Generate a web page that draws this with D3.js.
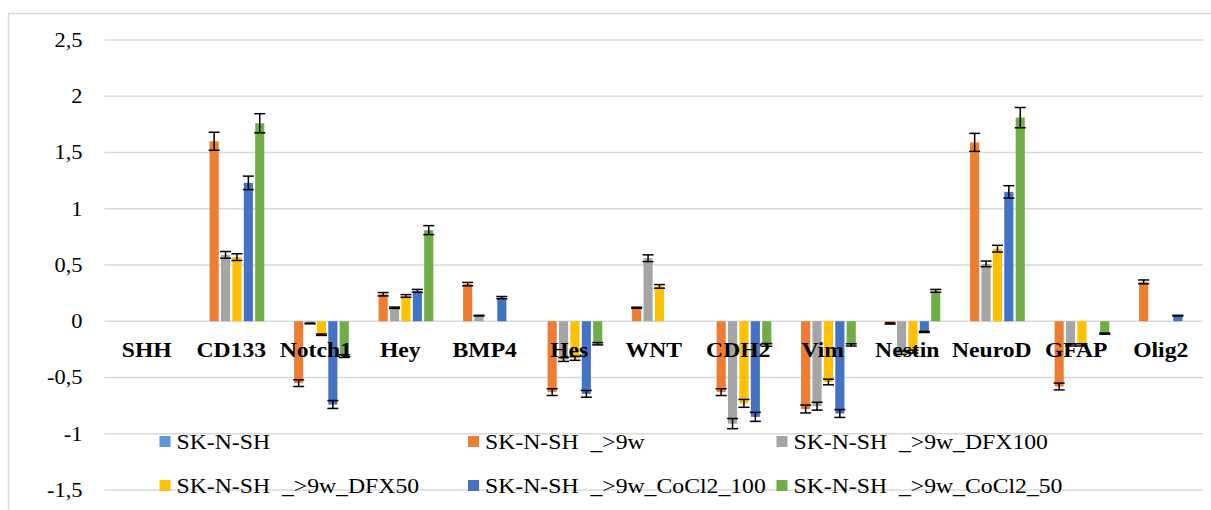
<!DOCTYPE html>
<html>
<head>
<meta charset="utf-8">
<script src="https://cdn.jsdelivr.net/npm/d3@7"></script>
<style>
  body { margin: 0; background: #fff; }
  svg { display: block; }
</style>
</head>
<body>
<div id="chart"></div>
<script>
// Chart values
const categories = ["SHH", "CD133", "Notch1", "Hey", "BMP4", "Hes", "WNT", "CDH2", "Vim", "Nestin", "NeuroD", "GFAP", "Olig2"];
const seriesNames = ["SK-N-SH", "SK-N-SH  _>9w", "SK-N-SH  _>9w_DFX100", "SK-N-SH  _>9w_DFX50", "SK-N-SH  _>9w_CoCl2_100", "SK-N-SH  _>9w_CoCl2_50"];
const seriesColors = ["#5B9BD5", "#ED7D31", "#A5A5A5", "#FFC000", "#4472C4", "#70AD47"];

const control = [0, 0, 0, 0, 0, 0, 0, 0, 0, 0, 0, 0, 0];
const controlErr = [0, 0, 0, 0, 0, 0, 0, 0, 0, 0, 0, 0, 0];
const w9 = [0, 1.60, -0.55, 0.24, 0.33, -0.63, 0.12, -0.63, -0.78, -0.02, 1.59, -0.58, 0.35];
const w9Err = [0, 0.08, 0.03, 0.015, 0.015, 0.03, 0.005, 0.03, 0.035, 0.005, 0.08, 0.03, 0.017];
const dfx100 = [0, 0.59, -0.02, 0.12, 0.05, -0.34, 0.56, -0.91, -0.755, -0.28, 0.51, -0.21, 0];
const dfx100Err = [0, 0.03, 0.003, 0.006, 0.003, 0.017, 0.03, 0.045, 0.035, 0.014, 0.025, 0.01, 0];
const dfx50 = [0, 0.57, -0.12, 0.225, 0, -0.33, 0.31, -0.73, -0.54, -0.27, 0.645, -0.21, 0];
const dfx50Err = [0, 0.03, 0.006, 0.012, 0, 0.017, 0.016, 0.035, 0.025, 0.013, 0.03, 0.01, 0];
const cocl100 = [0, 1.23, -0.74, 0.27, 0.21, -0.645, 0, -0.85, -0.82, -0.095, 1.15, 0, 0.05];
const cocl100Err = [0, 0.06, 0.035, 0.013, 0.01, 0.03, 0, 0.04, 0.035, 0.005, 0.055, 0, 0.003];
const cocl50 = [0, 1.76, -0.31, 0.81, 0, -0.2, 0, -0.21, -0.21, 0.27, 1.81, -0.11, 0];
const cocl50Err = [0, 0.085, 0.012, 0.04, 0, 0.01, 0, 0.012, 0.01, 0.013, 0.09, 0.005, 0];

const yTicks = [-1.5, -1, -0.5, 0, 0.5, 1, 1.5, 2, 2.5];
const yTickLabels = ["-1,5", "-1", "-0,5", "0", "0,5", "1", "1,5", "2", "2,5"];

const seriesValues = [control, w9, dfx100, dfx50, cocl100, cocl50];
const seriesErrors = [controlErr, w9Err, dfx100Err, dfx50Err, cocl100Err, cocl50Err];

const fontFam = "'Liberation Serif'";

// Declare the chart dimensions
const width = 1211;
const height = 510;
const plot = { left: 104.5, right: 1203, top: 40, bottom: 490 };

const svg = d3.select("#chart")
  .append("svg")
  .attr("width", width)
  .attr("height", height);

// outer chart border (runs off the right/bottom like the source)
svg.append("rect")
  .attr("x", 8.5)
  .attr("y", 13.5)
  .attr("width", 1215)
  .attr("height", 510)
  .attr("fill", "none")
  .attr("stroke", "#d9d9d9")
  .attr("stroke-width", 1.5);

// scales
const x0 = d3.scaleBand()
  .domain(categories)
  .range([plot.left, plot.right])
  .padding(0);

const x1 = d3.scaleBand()
  .domain(d3.range(seriesNames.length))
  .range([9.2, x0.bandwidth() - 9.2])
  .paddingInner(0.2)
  .paddingOuter(0);

const y = d3.scaleLinear()
  .domain([-1.5, 2.5])
  .range([plot.bottom, plot.top]);

// grid lines
svg.append("g")
  .selectAll("line")
  .data(yTicks)
  .join("line")
  .attr("x1", plot.left)
  .attr("x2", plot.right)
  .attr("y1", d => y(d))
  .attr("y2", d => y(d))
  .attr("stroke", "#d9d9d9")
  .attr("stroke-width", 1.5);

// y axis labels (source text is a bit stretched sideways)
const yAxis = svg.append("g")
  .attr("transform", `translate(${plot.left},0)`)
  .call(d3.axisLeft(y)
    .tickValues(yTicks)
    .tickSize(0)
    .tickPadding(22)
    .tickFormat((d, i) => yTickLabels[i]));
yAxis.select(".domain").remove();
yAxis.selectAll("text")
  .style("font-family", fontFam)
  .style("font-size", "20px")
  .attr("fill", "#000")
  .attr("transform", function () {
    const tx = +this.getAttribute("x");
    return `translate(${tx * (1 - 1.12)},0) scale(1.12,1)`;
  });

// bars
const flat = [];
seriesValues.forEach((vals, s) => {
  vals.forEach((v, c) => {
    flat.push({ s: s, cat: categories[c], v: v, e: seriesErrors[s][c] });
  });
});

svg.append("g")
  .selectAll("rect")
  .data(flat)
  .join("rect")
  .attr("x", d => x0(d.cat) + x1(d.s))
  .attr("width", x1.bandwidth())
  .attr("y", d => Math.min(y(d.v), y(0)))
  .attr("height", d => Math.abs(y(d.v) - y(0)))
  .attr("fill", d => seriesColors[d.s]);

// error bars
const errs = flat.filter(d => d.v !== 0);
const capW = 11;
const eg = svg.append("g")
  .attr("stroke", "#000")
  .attr("stroke-width", 1.5);
errs.forEach(d => {
  const cx = x0(d.cat) + x1(d.s) + x1.bandwidth() / 2;
  const top = y(d.v + d.e);
  const bot = y(d.v - d.e);
  eg.append("line").attr("x1", cx).attr("x2", cx).attr("y1", top).attr("y2", bot);
  eg.append("line").attr("x1", cx - capW / 2).attr("x2", cx + capW / 2).attr("y1", top).attr("y2", top);
  eg.append("line").attr("x1", cx - capW / 2).attr("x2", cx + capW / 2).attr("y1", bot).attr("y2", bot);
});

// category labels
svg.append("g")
  .selectAll("text")
  .data(categories)
  .join("text")
  .attr("transform", d => `translate(${x0(d) + x0.bandwidth() / 2},357) scale(1.075,1)`)
  .attr("text-anchor", "middle")
  .style("font-family", fontFam)
  .style("font-size", "22px")
  .style("font-weight", "bold")
  .text(d => d);

// legend
const legend = svg.append("g")
  .selectAll("g")
  .data(seriesNames)
  .join("g")
  .attr("transform", (d, i) => `translate(${159.5 + (i % 3) * 308.5},${449 + Math.floor(i / 3) * 44})`);

legend.append("rect")
  .attr("x", 0)
  .attr("y", -13)
  .attr("width", 11)
  .attr("height", 11)
  .attr("fill", (d, i) => seriesColors[i]);

legend.append("text")
  .attr("transform", "translate(17,0) scale(1.13,1)")
  .style("font-family", fontFam)
  .style("font-size", "21px")
  .style("white-space", "pre")
  .text(d => d);
</script>
</body>
</html>
